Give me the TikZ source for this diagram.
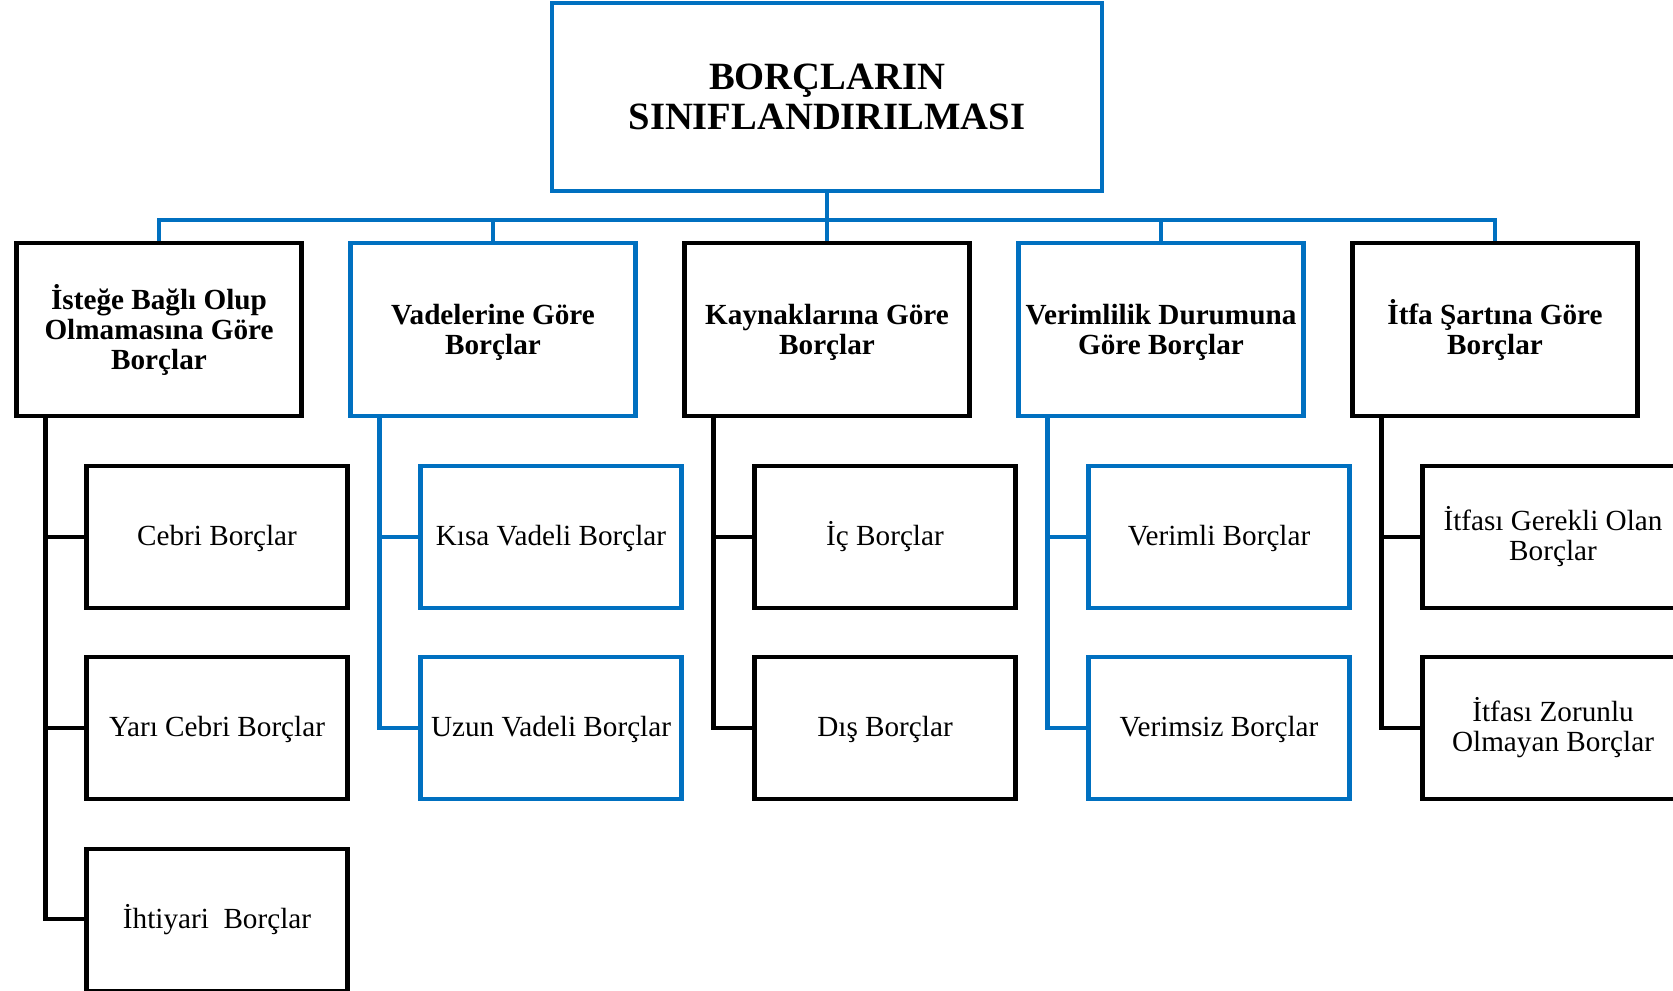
\documentclass[tikz,border=0pt]{standalone}
\usepackage{fontspec}
\setmainfont{Liberation Serif}
\definecolor{mblue}{RGB}{0,112,192}
\newcommand{\ist}{\vphantom{İ}}
\begin{document}
\begin{tikzpicture}[x=0.5pt,y=-0.5pt,
  box/.style={draw, rectangle, line width=2.1pt, inner sep=0pt, align=center, font=\fontsize{14.6}{15}\selectfont},
  lone/.style={box, minimum width=142.5pt, minimum height=86.5pt, font=\bfseries\fontsize{14.6}{15}\selectfont},
  ltwo/.style={box, minimum width=130.5pt, minimum height=71pt},
  titlebox/.style={box, draw=mblue, minimum width=275pt, minimum height=94pt, font=\bfseries\fontsize{19.3}{19.8}\selectfont},
  con/.style={line width=2.1pt},
  bl/.style={draw=mblue},
  bk/.style={draw=black}
]
\clip (0,0) rectangle (1673,990);
\node[titlebox] (top) at (827,97) {BORÇLARIN\\SINIFLANDIRILMASI};

\node[lone,bk] (L1) at (159,329.5) {İsteğe Bağlı Olup\\Olmamasına Göre\\Borçlar};
\node[lone,bl] (L2) at (493,329.5) {\ist Vadelerine Göre\\Borçlar};
\node[lone,bk] (L3) at (827,329.5) {\ist Kaynaklarına Göre\\Borçlar};
\node[lone,bl] (L4) at (1161,329.5) {\ist Verimlilik Durumuna\\Göre Borçlar};
\node[lone,bk] (L5) at (1495,329.5) {İtfa Şartına Göre\\Borçlar};

\node[ltwo,bk] (c1a) at (217,537) {\ist Cebri Borçlar};
\node[ltwo,bk] (c1b) at (217,728) {\ist Yarı Cebri Borçlar};
\node[ltwo,bk] (c1c) at (217,920) {İhtiyari~ Borçlar};

\node[ltwo,bl] (c2a) at (551,537) {\ist Kısa Vadeli Borçlar};
\node[ltwo,bl] (c2b) at (551,728) {\ist Uzun Vadeli Borçlar};

\node[ltwo,bk] (c3a) at (885,537) {İç Borçlar};
\node[ltwo,bk] (c3b) at (885,728) {\ist Dış Borçlar};

\node[ltwo,bl] (c4a) at (1219,537) {\ist Verimli Borçlar};
\node[ltwo,bl] (c4b) at (1219,728) {\ist Verimsiz Borçlar};

\node[ltwo,bk] (c5a) at (1553,537) {İtfası Gerekli Olan\\Borçlar};
\node[ltwo,bk] (c5b) at (1553,728) {İtfası Zorunlu\\Olmayan Borçlar};

% bus
\coordinate (bus) at (827,220);
\draw[con,mblue] (top.south) -- (bus);
\foreach \i in {1,...,5} \draw[con,mblue] (L\i.north) |- (bus);

% trunks
\foreach \i in {1,...,5} \coordinate (tk\i) at ([xshift=-56.75pt]L\i.south);
\draw[con,black] (tk1) |- (c1a.west);
\draw[con,black] (tk1) |- (c1b.west);
\draw[con,black] (tk1) |- ([yshift=0.5pt]c1c.west);
\draw[con,mblue] (tk2) |- (c2a.west);
\draw[con,mblue] (tk2) |- (c2b.west);
\draw[con,black] (tk3) |- (c3a.west);
\draw[con,black] (tk3) |- (c3b.west);
\draw[con,mblue] (tk4) |- (c4a.west);
\draw[con,mblue] (tk4) |- (c4b.west);
\draw[con,black] (tk5) |- (c5a.west);
\draw[con,black] (tk5) |- (c5b.west);
\end{tikzpicture}
\end{document}
